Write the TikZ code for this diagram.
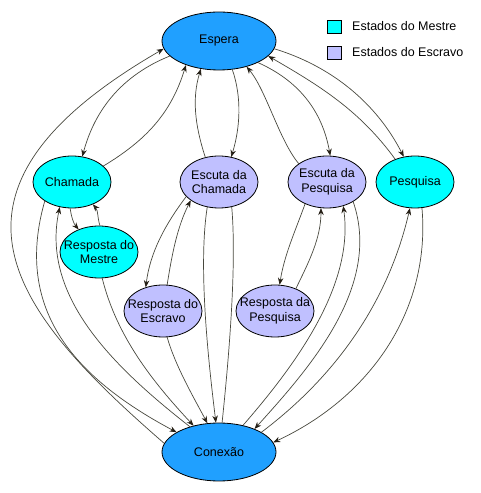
\documentclass[tikz,border=0pt]{standalone}
\usepackage{fontspec}
\setmainfont{Liberation Sans}
\usetikzlibrary{shapes.geometric,arrows.meta}
\definecolor{espblue}{RGB}{32,160,255}
\definecolor{mcyan}{RGB}{0,255,255}
\definecolor{lav}{RGB}{192,192,255}
\definecolor{linec}{RGB}{72,72,62}
\definecolor{arrc}{RGB}{36,30,20}
\tikzset{
  st/.style={ellipse, draw=black, line width=0.8pt, inner sep=0pt},
  bigst/.style={st, fill=espblue, minimum width=114pt, minimum height=58pt},
  mst/.style={st, fill=mcyan, minimum width=78pt, minimum height=52pt},
  slv/.style={st, fill=lav, minimum width=78pt, minimum height=52pt},
  lbl/.style={font=\fontsize{12.5}{14.5}\selectfont, align=center, inner sep=0pt},
  edge/.style={draw=linec, line width=0.7pt, -{Stealth[length=7pt,width=5.5pt,color=arrc]}},
  plainedge/.style={draw=linec, line width=0.7pt},
  sq/.style={draw=black, line width=0.8pt, minimum width=14pt, minimum height=13pt, inner sep=0pt}
}
\begin{document}
\begin{tikzpicture}[x=1pt,y=1pt]
\useasboundingbox (0,0) rectangle (481,493);
% nodes
\node[bigst, label={[lbl]center:Espera}] (esp) at (219,452) {};
\node[bigst, label={[lbl]center:Conexão}] (con) at (219,41) {};
\node[mst, label={[lbl]center:Chamada}] (cha) at (72,311) {};
\node[mst, label={[lbl]center:{Resposta do\\Mestre}}] (rm) at (99,241) {};
\node[slv, label={[lbl]center:{Escuta da\\Chamada}}] (ec) at (219,311) {};
\node[slv, label={[lbl]center:{Escuta da\\Pesquisa}}] (ep) at (327,311) {};
\node[mst, label={[lbl]center:Pesquisa}] (pq) at (415,311) {};
\node[slv, label={[lbl]center:{Resposta do\\Escravo}}] (re) at (163,182) {};
\node[slv, label={[lbl]center:{Resposta da\\Pesquisa}}] (rp) at (275,182) {};
% legend
\node[sq, fill=mcyan] (k1) at (334,466) {};
\node[lbl, anchor=west] (t1) at (352,467) {Estados do Mestre};
\node[sq, fill=lav] (k2) at (334,440.5) {};
\node[lbl, anchor=west] (t2) at (352,441) {Estados do Escravo};
% edges with Espera
\draw[edge] (esp.197) .. controls +(202:50) and +(75:50) .. (cha.68);
\draw[edge] (cha.27) .. controls +(31:50) and +(253:50) .. (esp.216);
\draw[edge] (con.171) .. controls +(139:201) and +(210:287) .. (esp.188);
\draw[edge] (ec.119) .. controls +(108:35) and +(253:30) .. (esp.237);
\draw[edge] (esp.295) .. controls +(289:30) and +(73:30) .. (ec.64);
\draw[edge] (ep.147) .. controls +(130:30) and +(310:30) .. (esp.317);
\draw[edge] (esp.331) .. controls +(336:45) and +(100:45) .. (ep.83);
\draw[edge] (pq.131) .. controls +(126:60) and +(330:60) .. (esp.343);
\draw[edge] (esp.352) .. controls +(343:60) and +(117:60) .. (pq.114);
% response loops
\draw[edge] (cha.266) .. controls +(278:8) and +(131:8) .. (rm.132);
\draw[edge] (rm.88) .. controls +(108:8) and +(311:8) .. (cha.313);
\draw[edge] (ec.204) .. controls +(233:35) and +(83:35) .. (re.126);
\draw[edge] (re.81) .. controls +(81:30) and +(243:30) .. (ec.213);
\draw[edge] (ep.225) .. controls +(250:30) and +(81:30) .. (rp.80);
\draw[edge] (rp.47) .. controls +(64:30) and +(270:30) .. (ep.257);
% edges with Conexao
\draw[edge] (con.139) .. controls +(142:100) and +(258:90) .. (cha.244);
\draw[edge] (cha.215) .. controls +(254:110) and +(152:120) .. (con.155);
\draw[edge] (rm.277) .. controls +(284:60) and +(133:60) .. (con.134);
\draw[edge] (re.279) .. controls +(286:30) and +(118:30) .. (con.112);
\draw[edge] (ec.245) .. controls +(261:60) and +(97:60) .. (con.96);
\draw[plainedge] (con.84) .. controls +(84:60) and +(275:60) .. (ec.297);
\draw[edge] (con.48) .. controls +(49:80) and +(278:80) .. (ep.304);
\draw[edge] (ep.323) .. controls +(289:90) and +(48:80) .. (con.33);
\draw[edge] (con.25) .. controls +(37:100) and +(257:90) .. (pq.259);
\draw[edge] (pq.285) .. controls +(275:100) and +(25:110) .. (con.10);
\end{tikzpicture}
\end{document}
